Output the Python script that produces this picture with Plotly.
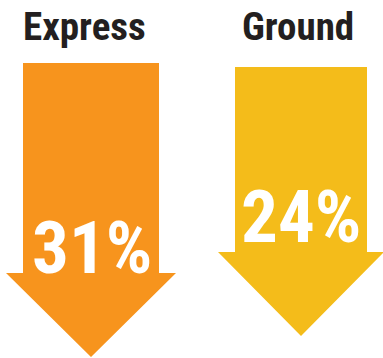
import plotly.graph_objects as go

# ---- data ----
categories = ["Express", "Ground"]
values = [31, 24]
value_labels = [f"{v}%" for v in values]

# ---- styling / geometry (pixel-like data units, y grows downward) ----
colors = ["#F7941D", "#F4BC1A"]
centers = [91, 301]          # arrow centre x
shaft_half = [68, 66]
head_half = [85, 83]
tops = [63, 67]
head_starts = [273, 252]
tips = [357, 336]
label_x = [84, 298]
label_y = [27, 27]
value_x = [92, 301]
value_y = [248, 217]
FONT = "Roboto Condensed, Liberation Sans Narrow, Roboto, sans-serif"

fig = go.Figure()
annotations = []
for i, cat in enumerate(categories):
    c = centers[i]
    xs = [c - shaft_half[i], c + shaft_half[i], c + shaft_half[i], c + head_half[i], c,
          c - head_half[i], c - shaft_half[i], c - shaft_half[i]]
    ys = [tops[i], tops[i], head_starts[i], head_starts[i], tips[i],
          head_starts[i], head_starts[i], tops[i]]
    fig.add_trace(go.Scatter(x=xs, y=ys, mode="lines", fill="toself",
                             fillcolor=colors[i], line=dict(width=0, color=colors[i]),
                             hoverinfo="skip", showlegend=False))
    annotations.append(dict(x=label_x[i], y=label_y[i], text=cat, showarrow=False,
                            xanchor="center", yanchor="middle",
                            font=dict(family=FONT, size=39, color="#231F20", weight="bold")))
    annotations.append(dict(x=value_x[i], y=value_y[i], text=value_labels[i], showarrow=False,
                            xanchor="center", yanchor="middle",
                            font=dict(family=FONT, size=73, color="#FFFFFF", weight="bold")))

fig.update_layout(
    width=383, height=358,
    margin=dict(l=0, r=0, t=0, b=0),
    paper_bgcolor="white", plot_bgcolor="white",
    xaxis=dict(range=[0, 383], visible=False, fixedrange=True),
    yaxis=dict(range=[358, 0], visible=False, fixedrange=True),
    annotations=annotations,
    showlegend=False,
)
fig.write_html("out.html", config={"displayModeBar": False})
